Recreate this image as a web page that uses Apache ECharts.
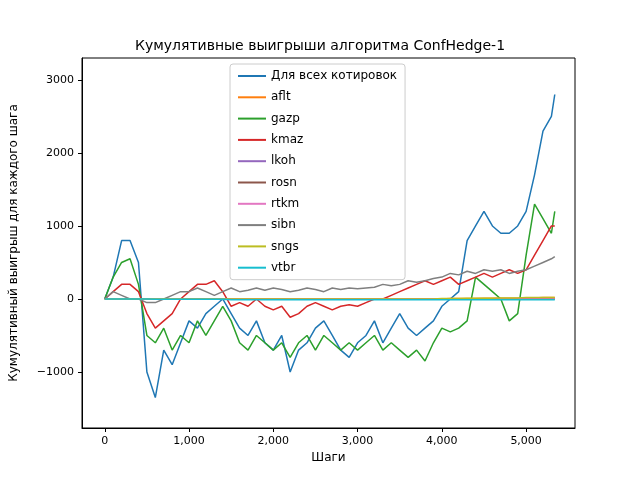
<!DOCTYPE html>
<html><head><meta charset="utf-8">
<script src="https://cdn.jsdelivr.net/npm/echarts@6/dist/echarts.min.js"></script>
<style>body{margin:0}#c{width:640px;height:480px}</style>
</head><body><div id="c"></div>
<script>
var steps = [0,100,200,300,400,500,600,700,800,900,1000,1100,1200,1300,1400,1500,1600,1700,1800,1900,2000,2100,2200,2300,2400,2500,2600,2700,2800,2900,3000,3100,3200,3300,3400,3500,3600,3700,3800,3900,4000,4100,4200,4300,4400,4500,4600,4700,4800,4900,5000,5100,5200,5300,5340];
var allQuotes = [0,300,800,800,500,-1000,-1350,-700,-900,-600,-300,-400,-200,-100,0,-200,-400,-500,-300,-600,-700,-500,-1000,-700,-600,-400,-300,-500,-700,-800,-600,-500,-300,-600,-400,-200,-400,-500,-400,-300,-100,0,100,800,1000,1200,1000,900,900,1000,1200,1700,2300,2500,2800];
var gazp = [0,300,500,550,200,-500,-600,-400,-700,-500,-600,-300,-500,-300,-100,-300,-600,-700,-500,-600,-700,-600,-800,-600,-500,-700,-500,-600,-700,-600,-700,-600,-500,-700,-600,-700,-800,-700,-850,-600,-400,-450,-400,-300,300,200,100,0,-300,-200,600,1300,1100,900,1200];
var kmaz = [0,100,200,200,100,-200,-400,-300,-200,0,100,200,200,250,100,-100,-50,-100,0,-100,-150,-100,-250,-200,-100,-50,-100,-150,-100,-80,-100,-50,0,0,50,100,150,200,250,200,250,300,200,250,300,350,300,350,400,350,400,600,800,1000,1000];
var sibn = [0,100,50,0,0,-50,-50,0,50,100,100,150,100,50,100,150,100,120,150,120,150,130,100,120,150,130,100,150,130,150,140,150,160,200,180,200,250,230,250,280,300,350,330,380,350,400,380,400,350,380,400,450,500,550,580];
var aflt = [0,0,0,0,0,0,0,0,0,0,0,0,0,0,0,0,0,0,0,0,0,0,0,0,0,0,0,0,0,0,0,0,0,0,0,0,0,0,0,0,0,5,5,5,5,10,10,10,10,10,15,15,20,20,20];
var sngs = [0,0,0,0,0,0,0,0,0,0,0,0,0,0,0,0,0,0,0,0,0,0,0,0,0,0,0,0,0,0,0,0,0,0,0,0,0,0,0,0,5,5,5,10,10,10,10,15,15,15,20,20,20,20,20];
var vtbr = [0,0,0,0,0,0,-5,-5,-5,-5,-5,-5,-5,-5,-5,-10,-10,-10,-10,-10,-10,-10,-10,-10,-10,-10,-10,-10,-10,-10,-10,-10,-10,-10,-10,-10,-10,-10,-10,-10,-10,-10,-10,-10,-10,-10,-10,-10,-10,-10,-10,-10,-10,-10,-10];
var zeros = steps.map(function(){ return 0; });
var xTicks = [0,1000,2000,3000,4000,5000];
var yTicks = [-1000,0,1000,2000,3000];
var seriesNames = ['Для всех котировок','aflt','gazp','kmaz','lkoh','rosn','rtkm','sibn','sngs','vtbr'];
var seriesData = [allQuotes, aflt, gazp, kmaz, zeros, zeros, zeros, sibn, sngs, vtbr];
var colors = ['#1f77b4','#ff7f0e','#2ca02c','#d62728','#9467bd','#8c564b','#e377c2','#7f7f7f','#bcbd22','#17becf'];

function pairs(v){ return steps.map(function(s,i){ return [s, v[i]]; }); }
var series = seriesNames.map(function(n, i){
  return {name: n, type:'line', data: pairs(seriesData[i]), showSymbol:false,
    lineStyle:{width:1.5, color: colors[i]}, itemStyle:{color: colors[i]}, z: 2 + i};
});
var myChart = echarts.init(document.getElementById('c'));
var font = {fontSize:12, color:'#000', fontFamily:'DejaVu Sans'};
var option = {
  animation:false,
  backgroundColor:'#fff',
  color: colors,
  title:{text:'Кумулятивные выигрыши алгоритма ConfHedge-1', left:'center', top:34,
    textStyle:{fontSize:14, fontWeight:'normal', color:'#000', fontFamily:'DejaVu Sans'}},
  grid:{left:80, right:65, top:58, bottom:52, show:true, borderColor:'#000', borderWidth:1},
  legend:{orient:'vertical', left:230, top:64, itemGap:7.3, itemWidth:28, itemHeight:2,
    icon:'rect', data: seriesNames, backgroundColor:'#fff', borderColor:'#ccc', borderWidth:1, borderRadius:3,
    padding:[5,8,5,8], textStyle:{fontSize:12, color:'#000', fontFamily:'DejaVu Sans', lineHeight:14}},
  xAxis:{type:'value', min:-270, max:5580, name:'Шаги', nameLocation:'middle', nameGap:24, nameTextStyle:font,
    axisLine:{onZero:false, lineStyle:{color:'#000'}},
    axisTick:{inside:false, length:4, lineStyle:{color:'#000'}, customValues:xTicks},
    axisLabel:{color:'#000', fontSize:11, fontFamily:'DejaVu Sans', customValues:xTicks},
    splitLine:{show:false}},
  yAxis:{type:'value', min:-1767, max:3300, name:'Кумулятивный выигрыш для каждого шага',
    nameLocation:'middle', nameGap:62, nameTextStyle:font,
    axisLine:{onZero:false, lineStyle:{color:'#000'}},
    axisTick:{inside:false, length:4, lineStyle:{color:'#000'}, customValues:yTicks},
    axisLabel:{color:'#000', fontSize:11, fontFamily:'DejaVu Sans', customValues:yTicks,
      formatter:function(v){ return v < 0 ? '\u2212' + (-v) : v; }},
    splitLine:{show:false}},
  series: series
};
myChart.setOption(option, true);
</script></body></html>
